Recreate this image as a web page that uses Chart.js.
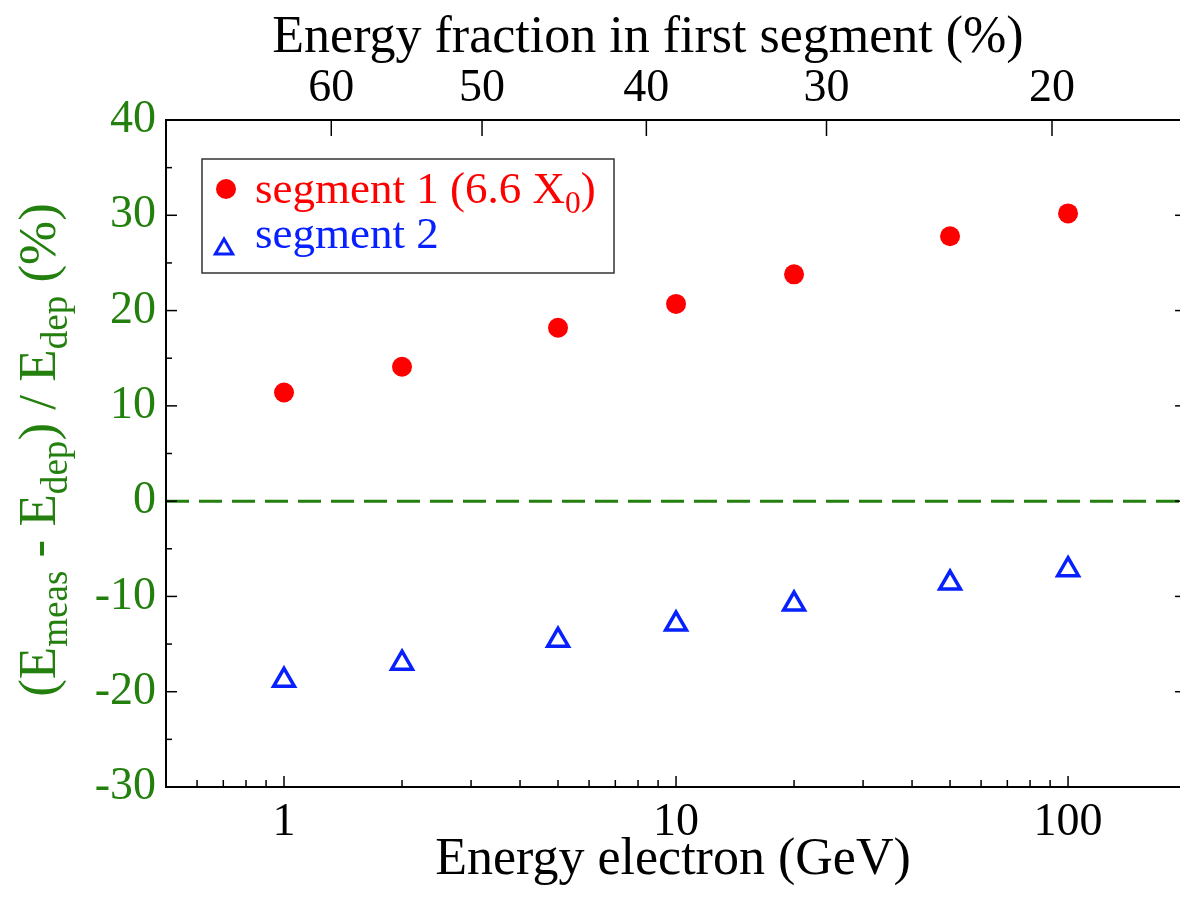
<!DOCTYPE html>
<html>
<head>
<meta charset="utf-8">
<title>Energy deviation per segment</title>
<script src="https://cdn.jsdelivr.net/npm/chart.js@4.4.0/dist/chart.umd.min.js"></script>
<style>
  html, body { margin: 0; padding: 0; background: #fff; overflow: hidden; }
  #wrap { width: 1180px; height: 900px; }
</style>
</head>
<body>
<div id="wrap"><canvas id="chart" width="1180" height="900"></canvas></div>
<script>
// beam energies (GeV) and relative deviation (%) for the two segments
const energies = [1, 2, 5, 10, 20, 50, 100];
const segment1 = [11.4, 14.1, 18.2, 20.7, 23.8, 27.8, 30.2];
const segment2 = [-18.8, -17.0, -14.6, -12.9, -10.8, -8.6, -7.2];

// axis ticks
const energyTicks = [1, 10, 100];
const fractionLabels = [60, 50, 40, 30, 20];
const fractionAtEnergy = [1.32, 3.2, 8.4, 24.2, 91];
const deviationTicks = [-30, -20, -10, 0, 10, 20, 30, 40];

// the frame runs to 200 GeV, a little past the right edge of the page
const X_MIN = 0.5;
const X_FRAME_MAX = 200;
const X_VISIBLE_MAX = 193;

const RED = '#ff0000';
const BLUE = '#0620ff';
const GREEN = '#23800e';
const SERIF = '"Liberation Serif", "Times New Roman", serif';

const tickFont = { family: SERIF, size: 46 };
const titleFont = { family: SERIF, size: 52 };

// text with subscripts: parts = [[text, isSub], ...]
function richWidth(ctx, parts, size) {
    let w = 0;
    for (const [t, sub] of parts) {
        ctx.font = (sub ? size * 0.7 : size) + 'px ' + SERIF;
        w += ctx.measureText(t).width;
    }
    return w;
}
function drawRich(ctx, parts, x, y, size) {
    for (const [t, sub] of parts) {
        ctx.font = (sub ? size * 0.7 : size) + 'px ' + SERIF;
        ctx.fillText(t, x, sub ? y + size * 0.22 : y);
        x += ctx.measureText(t).width;
    }
}

// keep the plot box fixed: no extra room for edge labels
function fixHorizontal(height) {
    return s => {
        s.height = height;
        s.paddingLeft = 0;
        s.paddingRight = 0;
    };
}

// frame plus inward tick marks on all four sides
const frameTicks = {
    id: 'frameTicks',
    afterDatasetsDraw(chart) {
        const { ctx, chartArea: a, scales } = chart;
        const right = scales.x.getPixelForValue(X_FRAME_MAX);
        ctx.save();
        ctx.strokeStyle = '#000';
        ctx.lineWidth = 1.5;
        const vtick = (x, y, len) => { ctx.beginPath(); ctx.moveTo(x, y); ctx.lineTo(x, y + len); ctx.stroke(); };
        const htick = (x, y, len) => { ctx.beginPath(); ctx.moveTo(x, y); ctx.lineTo(x + len, y); ctx.stroke(); };

        // bottom: decades major, 2..9 minor
        for (let d = 0.1; d <= 100; d *= 10) {
            for (let m = 1; m <= 9; m++) {
                const v = Math.round(d * m * 1000) / 1000;
                if (v < X_MIN || v > X_FRAME_MAX) continue;
                vtick(scales.x.getPixelForValue(v), a.bottom, m === 1 ? -11 : -7);
            }
        }
        // top: fraction ticks
        fractionAtEnergy.forEach(v => vtick(scales.xTop.getPixelForValue(v), a.top, 16));
        // left and right: every 10 major, every 5 minor
        for (let v = -30; v <= 40; v += 5) {
            const py = scales.y.getPixelForValue(v);
            const len = v % 10 === 0 ? 11 : 6;
            htick(a.left, py, len);
            htick(right, py, -len);
        }
        ctx.lineWidth = 2;
        ctx.strokeRect(a.left, a.top, right - a.left, a.bottom - a.top);
        ctx.restore();
    }
};

// legend box, top title and rotated y title (subscripts need hand drawing)
const annotations = {
    id: 'annotations',
    afterDraw(chart) {
        const { ctx } = chart;
        ctx.save();
        ctx.textBaseline = 'alphabetic';
        ctx.textAlign = 'left';

        // legend
        ctx.strokeStyle = '#333';
        ctx.lineWidth = 1.5;
        ctx.strokeRect(202, 159, 412, 114);
        const ds = chart.data.datasets;
        ctx.fillStyle = RED;
        ctx.strokeStyle = RED;
        Chart.helpers.drawPoint(ctx, { pointStyle: 'circle', radius: 10, borderWidth: 0, rotation: 0 }, 226, 189);
        ctx.fillStyle = RED;
        drawRich(ctx, [['segment 1 (6.6 X', false], ['0', true], [')', false]], 255, 203, 45);
        ctx.strokeStyle = BLUE;
        ctx.fillStyle = 'rgba(0,0,0,0)';
        ctx.lineWidth = 3;
        Chart.helpers.drawPoint(ctx, { pointStyle: 'triangle', radius: 10, borderWidth: 3, rotation: 0 }, 224, 249);
        ctx.fillStyle = BLUE;
        drawRich(ctx, [[ds[1].label, false]], 255, 248, 45);

        // top axis title
        ctx.fillStyle = '#000';
        ctx.textAlign = 'center';
        ctx.font = titleFont.size + 'px ' + SERIF;
        ctx.fillText('Energy fraction in first segment (%)', 648, 52);
        ctx.textAlign = 'left';

        // y axis title
        const parts = [['(E', false], ['meas', true], [' - E', false], ['dep', true], [') / E', false], ['dep', true], [' (%)', false]];
        const size = 53;
        const w = richWidth(ctx, parts, size);
        ctx.translate(55, 450);
        ctx.rotate(-Math.PI / 2);
        ctx.fillStyle = GREEN;
        drawRich(ctx, parts, -w / 2, 0, size);
        ctx.restore();
    }
};

const ctx = document.getElementById('chart').getContext('2d');
new Chart(ctx, {
    type: 'scatter',
    data: {
        datasets: [
            {
                label: 'segment 1 (6.6 X0)',
                data: energies.map((e, i) => ({ x: e, y: segment1[i] })),
                pointStyle: 'circle',
                pointRadius: 10,
                pointBorderWidth: 0,
                backgroundColor: RED,
                borderColor: RED
            },
            {
                label: 'segment 2',
                data: energies.map((e, i) => ({ x: e, y: segment2[i] })),
                pointStyle: 'triangle',
                pointRadius: 12,
                pointBorderWidth: 3.5,
                backgroundColor: 'rgba(0,0,0,0)',
                borderColor: BLUE
            },
            {
                label: 'zero',
                data: [{ x: X_MIN, y: 0 }, { x: X_FRAME_MAX, y: 0 }],
                showLine: true,
                pointRadius: 0,
                borderColor: GREEN,
                borderWidth: 3,
                borderDash: [23, 10]
            }
        ]
    },
    options: {
        responsive: false,
        animation: false,
        layout: { padding: 0, autoPadding: false },
        plugins: {
            legend: { display: false },
            tooltip: { enabled: false }
        },
        scales: {
            x: {
                type: 'logarithmic',
                position: 'bottom',
                min: X_MIN,
                max: X_VISIBLE_MAX,
                grid: { display: false, drawTicks: false },
                border: { display: false },
                afterBuildTicks: s => { s.ticks = energyTicks.map(v => ({ value: v })); },
                afterFit: fixHorizontal(113),
                ticks: {
                    autoSkip: false,
                    maxRotation: 0,
                    padding: 8,
                    color: '#000',
                    font: tickFont,
                    callback: v => String(v)
                },
                title: {
                    display: true,
                    text: 'Energy electron (GeV)',
                    color: '#000',
                    font: titleFont,
                    padding: { top: 0, bottom: 8 }
                }
            },
            xTop: {
                type: 'logarithmic',
                position: 'top',
                min: X_MIN,
                max: X_VISIBLE_MAX,
                grid: { display: false, drawTicks: false },
                border: { display: false },
                afterBuildTicks: s => { s.ticks = fractionAtEnergy.map(v => ({ value: v })); },
                afterFit: fixHorizontal(120),
                ticks: {
                    autoSkip: false,
                    maxRotation: 0,
                    padding: 3,
                    color: '#000',
                    font: tickFont,
                    callback: (v, i) => String(fractionLabels[i])
                }
            },
            y: {
                min: -30,
                max: 40,
                grid: { display: false, drawTicks: false },
                border: { display: false },
                afterBuildTicks: s => { s.ticks = deviationTicks.map(v => ({ value: v })); },
                afterFit: s => { s.width = 166; },
                ticks: {
                    padding: 10,
                    color: GREEN,
                    font: tickFont
                }
            }
        }
    },
    plugins: [frameTicks, annotations]
});
</script>
</body>
</html>
